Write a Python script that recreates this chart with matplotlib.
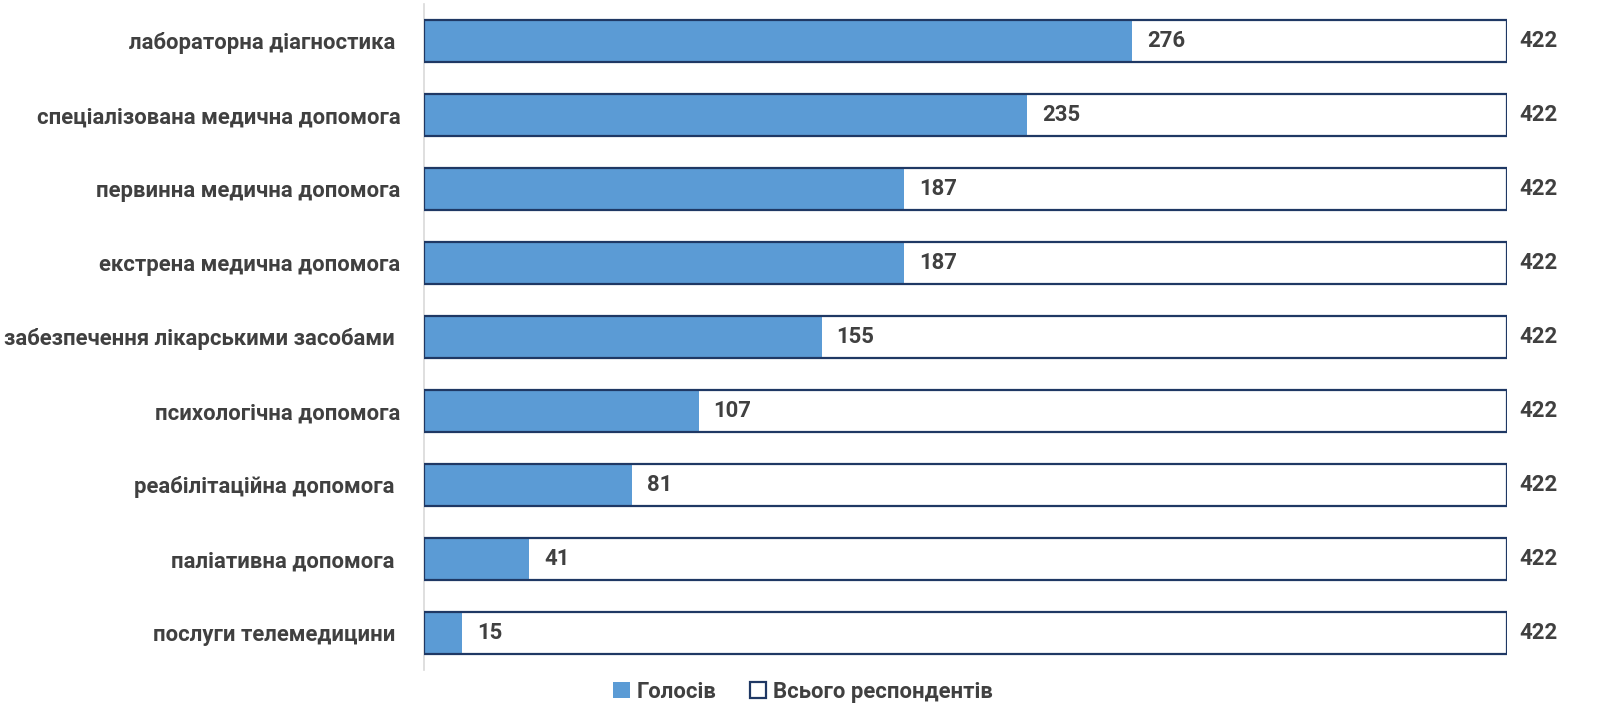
import numpy as np
import matplotlib.pyplot as plt
from matplotlib.patches import Patch

#______________________________ data ______________________________
categories = ['лабораторна діагностика ',
              'спеціалізована медична допомога',
              'первинна медична допомога',
              'екстрена медична допомога',
              'забезпечення лікарськими засобами ',
              'психологічна допомога',
              'реабілітаційна допомога ',
              'паліативна допомога ',
              'послуги телемедицини ']
votes = [276, 235, 187, 187, 155, 107, 81, 41, 15]
total = [422, 422, 422, 422, 422, 422, 422, 422, 422]
legend_labels = ['Голосів', 'Всього респондентів']

#______________________________ style ______________________________
plt.rcParams['font.family'] = ['Roboto', 'DejaVu Sans']
blue = '#5B9BD5'
navy = '#1F3864'
gray_text = '#404040'
fs = 15.9

fig = plt.figure(figsize=(16, 7.18), dpi=100)
ax = fig.add_axes([424/1600, 1-670/718, (1507-424)/1600, (670-4)/718])

y = np.arange(len(categories))
h = 0.57

ax.barh(y, votes, height=h, color=blue, edgecolor='none', zorder=2)
ax.barh(y, total, height=h, facecolor='none', edgecolor=navy, linewidth=1.6, zorder=3)

# value labels
for i in range(len(categories)):
    ax.text(votes[i] + 5.8, y[i], str(votes[i]), va='center', ha='left',
            fontsize=fs, fontweight='bold', color=gray_text, zorder=4)
    ax.text(total[i] + 5, y[i], str(total[i]), va='center', ha='left',
            fontsize=fs, fontweight='bold', color=gray_text, clip_on=False)

ax.set_xlim(0, 422)
ax.set_ylim(len(categories) - 0.5, -0.5)
ax.set_yticks(y)
ax.set_yticklabels(categories, fontsize=fs, fontweight='bold', color=gray_text)
ax.tick_params(axis='y', length=0, pad=17)
ax.set_xticks([])

for s in ['top', 'right', 'bottom']:
    ax.spines[s].set_visible(False)
ax.spines['left'].set_color('#D9D9D9')
ax.spines['left'].set_linewidth(1.2)

handles = [Patch(facecolor=blue, edgecolor='none'),
           Patch(facecolor='white', edgecolor=navy, linewidth=1.6)]
fig.legend(handles, legend_labels, loc='center', bbox_to_anchor=(803/1600, 1-692/718),
           ncol=2, frameon=False, handlelength=0.75, handleheight=0.75,
           handletextpad=0.3, columnspacing=1.5,
           prop={'weight': 'bold', 'size': fs})
for t in fig.legends[0].get_texts():
    t.set_color(gray_text)

fig.savefig('out.png', dpi=100, facecolor='white')
